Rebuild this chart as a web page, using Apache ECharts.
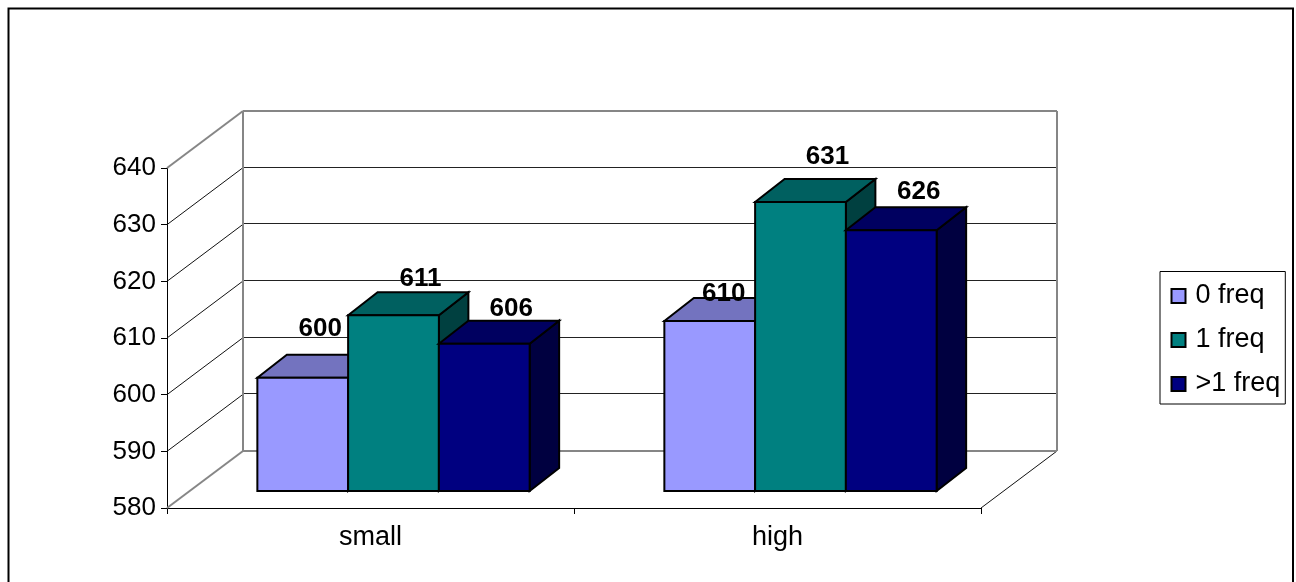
<!DOCTYPE html>
<html>
<head>
<meta charset="utf-8">
<style>html,body{margin:0;padding:0;background:#fff}#chart{width:1296px;height:582px}</style>
<script src="https://cdn.jsdelivr.net/npm/echarts@6/dist/echarts.min.js"></script>
</head>
<body>
<div id="chart"></div>
<script>
// Chart content
const categories = ['small', 'high'];
const freq0 = [600, 610];
const freq1 = [611, 631];
const freqMany = [606, 626];
const yTicks = [580, 590, 600, 610, 620, 630, 640];

// Oblique projection used for the 3D look, in pixels
const WALL = [76, -57];
const FLOOR_SHIFT = [23, -17];
const BAR_DEPTH = [29.5, -23];
const BAR_BAND = 0.223;
const FONT = '"Liberation Sans", Arial, sans-serif';
const INK = '#000';
const WALL_GREY = '#868686';

// Hand-placed value labels: offset from the top-front centre of each bar
const labelOffsets = [
  [[17.5, -48.7], [14, -27.5]],
  [[27, -36.3], [27, -45]],
  [[27, -34.7], [27.5, -38.3]]
];

function line(x1, y1, x2, y2, stroke, width) {
  return { type: 'line', shape: { x1, y1, x2, y2 }, style: { stroke, lineWidth: width } };
}

function renderWalls(params, api) {
  const v = api.value(0);
  const cs = params.coordSys;
  const y = api.coord([0, v])[1];
  const left = cs.x, right = cs.x + cs.width;
  const backL = left + WALL[0], backR = right + WALL[0], backY = y + WALL[1];
  const crispY = Math.floor(backY - 0.5) + 0.5;
  const children = [];
  if (v === yTicks[0]) {
    children.push(line(left, y, backL, backY, WALL_GREY, 2));
    children.push(line(right, y, backR, backY, '#111', 1));
    children.push(line(backL, backY, backR, backY, WALL_GREY, 2));
  } else if (v === yTicks[yTicks.length - 1]) {
    children.push(line(left, y, backL, backY, WALL_GREY, 2));
    children.push(line(backL, backY, backR, backY, WALL_GREY, 2));
    children.push(line(backL, backY, backL, backY + cs.height, WALL_GREY, 2));
    children.push(line(backR, backY, backR, backY + cs.height, WALL_GREY, 2));
  } else {
    children.push(line(left, y, backL, backY, '#111', 1));
    children.push(line(backL, crispY, backR, crispY, '#222', 1));
  }
  return { type: 'group', children };
}

function shade(hex, f) {
  const n = parseInt(hex.slice(1), 16);
  const c = [n >> 16, (n >> 8) & 255, n & 255].map(p => Math.round(p * f));
  return 'rgb(' + c.join(',') + ')';
}

function makeBarRenderer(seriesIndex, color) {
  return function (params, api) {
    const cat = api.value(0), val = api.value(1);
    const band = api.size([1, 0])[0];
    const w = band * BAR_BAND;
    const top = api.coord([cat, val]);
    const base = api.coord([cat, yTicks[0]]);
    const x0 = top[0] + FLOOR_SHIFT[0] + (seriesIndex - 1.5) * w;
    const x1 = x0 + w;
    const yT = top[1] + FLOOR_SHIFT[1];
    const yB = base[1] + FLOOR_SHIFT[1];
    const dx = BAR_DEPTH[0], dy = BAR_DEPTH[1];
    const edge = { stroke: INK, lineWidth: 2, lineJoin: 'miter' };
    const off = labelOffsets[seriesIndex][cat];
    const poly = (points, fill) => ({
      type: 'polygon', shape: { points }, style: Object.assign({ fill }, edge)
    });
    return {
      type: 'group',
      children: [
        poly([[x1, yT], [x1 + dx, yT + dy], [x1 + dx, yB + dy], [x1, yB]], shade(color, 0.5)),
        poly([[x0, yT], [x0 + dx, yT + dy], [x1 + dx, yT + dy], [x1, yT]], shade(color, 0.75)),
        poly([[x0, yT], [x1, yT], [x1, yB], [x0, yB]], color),
        {
          type: 'text', z2: 50,
          style: {
            x: (x0 + x1) / 2 + off[0], y: yT + off[1],
            text: String(val), fill: INK,
            font: 'bold 26px ' + FONT, textAlign: 'center', textVerticalAlign: 'middle'
          }
        }
      ]
    };
  };
}

function barSeries(name, values, index, color) {
  return {
    name, type: 'custom', z: 3,
    coordinateSystem: 'cartesian2d',
    renderItem: makeBarRenderer(index, color),
    encode: { x: 0, y: 1 },
    itemStyle: { color, borderColor: INK, borderWidth: 1.5 },
    data: values.map((v, i) => [i, v]),
    silent: true
  };
}

const chart = echarts.init(document.getElementById('chart'), null, { renderer: 'canvas' });
chart.setOption({
  animation: false,
  backgroundColor: '#fff',
  textStyle: { fontFamily: FONT },
  grid: { left: 167, top: 168, width: 814, height: 340, containLabel: false },
  xAxis: {
    type: 'category', data: categories,
    axisLine: { lineStyle: { color: INK, width: 1 } },
    axisTick: { show: true, length: 6, lineStyle: { color: INK } },
    axisLabel: { color: INK, fontSize: 27, margin: 16, fontFamily: FONT },
    splitLine: { show: false }
  },
  yAxis: {
    type: 'value', min: yTicks[0], max: yTicks[yTicks.length - 1], interval: 10,
    axisLine: { show: true, lineStyle: { color: INK, width: 1 } },
    axisTick: { show: true, length: 6, lineStyle: { color: INK } },
    axisLabel: { color: INK, fontSize: 26, margin: 11, padding: [5, 0, 0, 0], fontFamily: FONT },
    splitLine: { show: false }
  },
  legend: {
    orient: 'vertical', left: 1160, top: 271.5,
    data: ['0 freq', '1 freq', '>1 freq'],
    icon: 'rect', itemWidth: 14, itemHeight: 14, itemGap: 12,
    padding: [8.5, 5, 4, 10.5],
    borderColor: '#000', borderWidth: 1, backgroundColor: '#fff',
    textStyle: { color: INK, fontSize: 27, lineHeight: 30, padding: [2, 0, 0, 5], fontFamily: FONT }
  },
  graphic: [{
    type: 'polyline', silent: true,
    shape: { points: [[8.5, 582], [8.5, 8.5], [1293, 8.5], [1293, 582]] },
    style: { stroke: '#000', lineWidth: 2, fill: 'none' }
  }],
  series: [
    {
      name: 'walls', type: 'custom', z: 1, silent: true,
      coordinateSystem: 'cartesian2d',
      renderItem: renderWalls,
      encode: { y: 0 },
      data: yTicks.map(v => [v])
    },
    barSeries('0 freq', freq0, 0, '#9999FF'),
    barSeries('1 freq', freq1, 1, '#008080'),
    barSeries('>1 freq', freqMany, 2, '#000080')
  ]
});
</script>
</body>
</html>
